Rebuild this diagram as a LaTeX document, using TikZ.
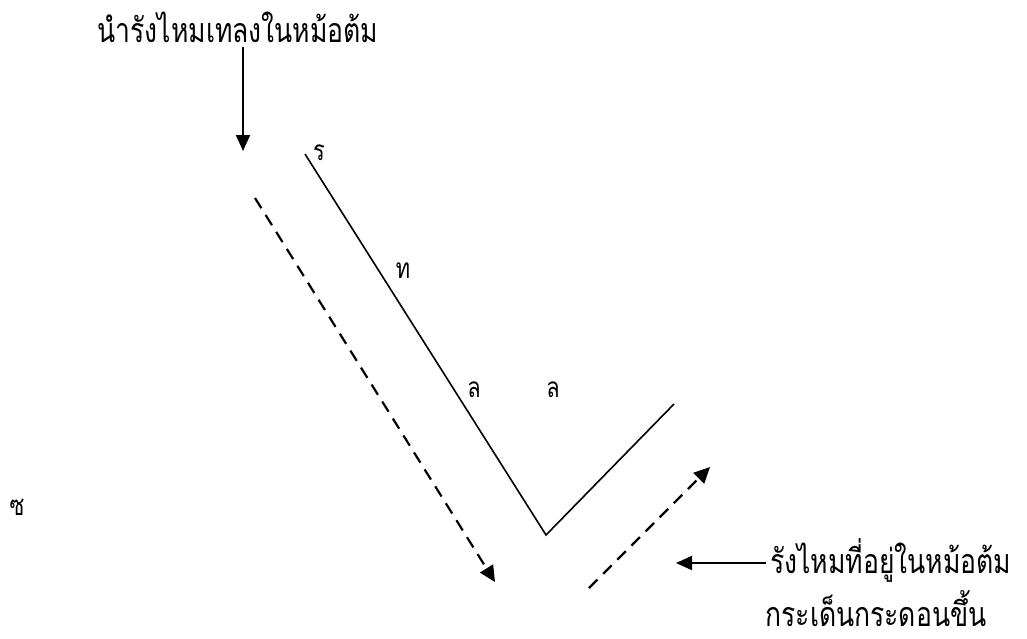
\documentclass[tikz,border=0pt]{standalone}
\usepackage{graphicx}
\usepackage{fontspec}
\newfontfamily\thaifont[Script=Thai]{Loma}
\usetikzlibrary{arrows.meta}
\newcommand{\narrow}[1]{\scalebox{0.78}[1]{#1}}
\tikzset{
  bigtxt/.style={font=\thaifont\fontsize{34}{36}\selectfont, inner sep=0pt, anchor=base},
  lbl/.style={font=\thaifont\fontsize{28}{30}\selectfont, inner sep=0pt, anchor=base},
  solidarrow/.style={line width=2pt, -{Triangle[width=14pt,length=16pt]}},
  dasharrow/.style={line width=2.2pt, dash pattern=on 12pt off 8pt, -{Triangle[width=15pt,length=16pt]}},
  vline/.style={line width=1.6pt, line join=miter}
}
\begin{document}
\begin{tikzpicture}[x=1pt,y=-1pt]
\useasboundingbox (0,0) rectangle (1027,638);
% texts
\node[bigtxt] (top) at (238,42) {\narrow{นำรังไหมเทลงในหม้อต้ม}};
\node[bigtxt, anchor=base west] (right) at (770,573) {\narrow{รังไหมที่อยู่ในหม้อต้ม}};
\node[bigtxt] (bottom) at (876,626) {\narrow{กระเด็นกระดอนขึ้น}};
\node[lbl] (r) at (319,160) {\narrow{ร}};
\node[lbl] (t) at (403,278) {\narrow{ท}};
\node[lbl] (l1) at (474,397) {\narrow{ล}};
\node[lbl] (l2) at (553,397) {\narrow{ล}};
\node[lbl] (s) at (17,515) {\narrow{ซ}};
% coordinates
\coordinate (a1s) at (243,47);
\coordinate (a1e) at (243,151);
\coordinate (v1) at (305,154);
\coordinate (v2) at (546,535);
\coordinate (v3) at (674,404);
\coordinate (d1s) at (255,198);
\coordinate (d1e) at (495,582);
\coordinate (d2s) at (589,588);
\coordinate (d2e) at (710,467);
\coordinate (a2s) at (766,563);
\coordinate (a2e) at (676,563);
% drawing
\draw[solidarrow] (a1s) -- (a1e);
\draw[vline] (v1) -- (v2) -- (v3);
\draw[dasharrow] (d1s) -- (d1e);
\draw[dasharrow] (d2s) -- (d2e);
\draw[solidarrow] (a2s) -- (a2e);
\end{tikzpicture}
\end{document}
